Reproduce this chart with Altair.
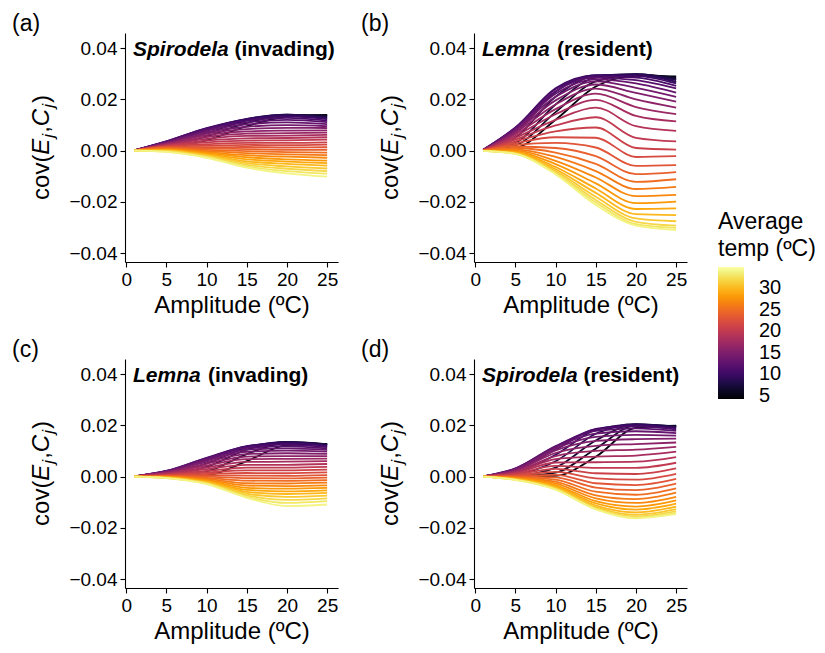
import altair as alt
import pandas as pd

FONT = "Liberation Sans"

temperatures = list(range(5, 35))
amplitudes = [1, 5, 10, 15, 20, 25]

# covariance values (x 1e-3); one list per amplitude, 30 temperatures (5..34) each
spirodela_invading = [
    [0.0, 0.0, 0.0, 0.1, 0.1, 0.1, 0.1, 0.1, 0.1, 0.1, 0.1, 0.1, 0.1, 0.1, 0.1, 0.0, 0.0, 0.0, 0.0, 0.0, 0.0, 0.0, 0.0, 0.0, 0.0, 0.0, 0.0, 0.0, 0.0, 0.0],
    [1.2, 1.8, 2.4, 2.9, 3.3, 3.6, 3.6, 3.5, 3.3, 3.1, 2.9, 2.7, 2.5, 2.3, 2.1, 1.9, 1.7, 1.5, 1.3, 1.1, 0.9, 0.7, 0.5, 0.3, 0.2, 0.0, -0.1, -0.2, -0.4, -0.5],
    [4.0, 5.5, 6.8, 7.8, 8.5, 8.8, 8.7, 8.3, 7.8, 7.2, 6.6, 6.0, 5.3, 4.6, 3.9, 3.2, 2.5, 1.9, 1.3, 0.8, 0.3, -0.2, -0.6, -1.0, -1.4, -1.7, -2.0, -2.3, -2.6, -2.8],
    [9.5, 10.8, 11.8, 12.3, 12.4, 12.2, 11.7, 11.0, 10.2, 9.3, 8.4, 7.5, 6.6, 5.7, 4.8, 3.9, 3.0, 2.2, 1.4, 0.6, -0.2, -1.0, -1.8, -2.6, -3.4, -4.2, -4.9, -5.6, -6.2, -6.7],
    [13.2, 13.8, 14.0, 14.0, 13.8, 13.4, 12.8, 12.0, 11.0, 9.9, 8.9, 7.8, 6.8, 5.8, 4.9, 4.0, 3.0, 2.1, 1.2, 0.3, -0.6, -1.5, -2.4, -3.4, -4.3, -5.2, -6.2, -7.1, -8.0, -8.9],
    [13.9, 13.7, 13.4, 13.0, 12.6, 12.3, 11.7, 11.1, 10.3, 9.5, 8.8, 7.9, 7.0, 6.1, 5.2, 4.3, 3.2, 2.3, 1.3, 0.3, -0.8, -1.8, -2.8, -3.9, -4.9, -5.9, -7.0, -8.0, -9.0, -10.2],
]

lemna_resident = [
    [0.0, 0.0, 0.1, 0.1, 0.2, 0.2, 0.3, 0.3, 0.3, 0.3, 0.3, 0.2, 0.2, 0.2, 0.2, 0.1, 0.1, 0.1, 0.1, 0.0, 0.0, 0.0, 0.0, 0.0, -0.1, -0.1, -0.1, -0.1, -0.1, -0.1],
    [1.0, 2.0, 3.0, 5.0, 7.0, 8.8, 9.0, 8.8, 8.5, 8.0, 7.5, 7.0, 6.4, 5.7, 5.0, 4.3, 3.6, 2.9, 2.2, 1.6, 1.0, 0.5, 0.0, -0.4, -0.7, -0.9, -1.1, -1.2, -1.3, -1.3],
    [12.0, 15.0, 18.0, 21.0, 23.0, 24.3, 24.0, 23.2, 22.2, 21.0, 19.6, 18.0, 16.2, 14.2, 12.0, 9.8, 7.5, 5.2, 3.0, 1.0, -0.8, -2.5, -4.0, -5.3, -6.4, -7.3, -8.0, -8.6, -9.0, -9.3],
    [25.0, 27.0, 28.5, 29.2, 29.4, 29.3, 29.0, 28.5, 27.8, 27.0, 25.8, 24.2, 22.2, 19.8, 16.8, 13.0, 9.0, 5.0, 1.2, -2.2, -5.2, -8.0, -10.5, -12.8, -14.8, -16.5, -18.0, -19.3, -20.3, -21.2],
    [29.2, 29.6, 29.8, 29.8, 29.6, 29.2, 28.5, 27.5, 26.2, 24.5, 22.5, 20.0, 17.0, 13.5, 9.5, 5.0, 1.0, -2.5, -6.0, -9.2, -12.2, -15.0, -17.8, -20.5, -22.8, -24.8, -26.5, -27.8, -28.7, -29.3],
    [29.0, 28.5, 28.0, 27.5, 26.8, 26.2, 25.3, 24.3, 22.6, 21.0, 19.1, 16.8, 14.2, 11.4, 7.7, 3.6, 0.4, -2.2, -5.7, -8.4, -11.2, -14.2, -17.3, -19.9, -22.6, -25.2, -27.6, -29.3, -30.2, -31.0],
]

lemna_invading = [
    [0.0, 0.0, 0.0, 0.0, 0.1, 0.1, 0.1, 0.1, 0.1, 0.1, 0.1, 0.1, 0.1, 0.1, 0.0, 0.0, 0.0, 0.0, 0.0, 0.0, 0.0, 0.0, 0.0, 0.0, 0.0, 0.0, 0.0, 0.0, 0.0, 0.0],
    [0.0, 0.2, 0.6, 1.1, 1.6, 2.0, 2.2, 2.2, 2.1, 2.0, 1.8, 1.6, 1.4, 1.2, 1.0, 0.8, 0.6, 0.5, 0.3, 0.2, 0.1, 0.0, -0.1, -0.2, -0.3, -0.4, -0.4, -0.5, -0.6, -0.6],
    [0.5, 2.0, 3.8, 5.2, 6.3, 7.0, 7.3, 7.2, 6.8, 6.3, 5.7, 5.0, 4.3, 3.6, 2.9, 2.2, 1.6, 1.0, 0.5, 0.0, -0.5, -0.9, -1.3, -1.6, -1.9, -2.2, -2.4, -2.6, -2.8, -2.9],
    [6.0, 8.8, 10.5, 11.3, 11.8, 11.9, 11.7, 11.2, 10.5, 9.7, 8.8, 7.8, 6.8, 5.7, 4.6, 3.5, 2.4, 1.4, 0.4, -0.6, -1.6, -2.6, -3.5, -4.4, -5.2, -6.0, -6.7, -7.3, -7.9, -8.3],
    [12.3, 13.2, 13.5, 13.5, 13.3, 13.0, 12.5, 11.8, 11.0, 10.1, 9.1, 8.0, 6.9, 5.8, 4.6, 3.5, 2.4, 1.3, 0.3, -0.7, -1.7, -2.7, -3.7, -4.7, -5.8, -6.8, -7.9, -9.1, -10.3, -11.5],
    [12.8, 12.7, 12.6, 12.4, 12.2, 11.9, 11.5, 11.0, 10.4, 9.7, 8.9, 8.0, 7.0, 6.0, 4.9, 3.8, 2.7, 1.6, 0.6, -0.4, -1.4, -2.4, -3.4, -4.4, -5.4, -6.4, -7.4, -8.5, -9.6, -10.9],
]

spirodela_resident = [
    [0.0, 0.0, 0.0, 0.0, 0.1, 0.1, 0.1, 0.1, 0.1, 0.1, 0.1, 0.1, 0.1, 0.1, 0.1, 0.0, 0.0, 0.0, 0.0, 0.0, 0.0, 0.0, 0.0, 0.0, 0.0, 0.0, 0.0, 0.0, 0.0, 0.0],
    [0.0, 0.1, 0.3, 0.8, 1.6, 2.5, 3.0, 3.2, 3.1, 2.9, 2.6, 2.3, 2.0, 1.7, 1.4, 1.1, 0.8, 0.5, 0.3, 0.0, -0.2, -0.4, -0.6, -0.8, -0.9, -1.0, -1.1, -1.2, -1.3, -1.3],
    [0.3, 1.5, 3.5, 6.0, 8.5, 10.5, 11.6, 11.9, 11.6, 11.0, 10.2, 9.2, 8.0, 6.8, 5.5, 4.2, 3.0, 1.8, 0.7, -0.3, -1.2, -2.0, -2.7, -3.3, -3.8, -4.2, -4.5, -4.8, -5.0, -5.1],
    [7.7, 10.9, 14.1, 16.7, 18.2, 18.6, 18.4, 17.8, 16.8, 15.5, 13.9, 12.0, 10.0, 7.8, 5.6, 3.4, 1.3, -0.7, -2.6, -4.3, -5.9, -7.3, -8.5, -9.6, -10.5, -11.3, -11.9, -12.4, -12.7, -12.8],
    [19.0, 20.0, 20.4, 20.5, 20.4, 20.1, 19.6, 18.8, 17.7, 16.3, 14.6, 12.7, 10.5, 8.2, 5.8, 3.4, 1.0, -1.2, -3.3, -5.3, -7.1, -8.8, -10.3, -11.7, -12.9, -14.0, -14.9, -15.6, -16.0, -16.3],
    [19.9, 19.8, 19.6, 19.4, 19.1, 18.8, 18.4, 17.8, 17.0, 16.0, 14.8, 13.3, 11.6, 9.7, 7.6, 5.4, 3.2, 1.1, -0.9, -2.8, -4.6, -6.3, -7.9, -9.3, -10.6, -11.7, -12.7, -13.5, -14.2, -14.7],
]

panels = [
    ("(a)", "Spirodela", "(invading)", spirodela_invading),
    ("(b)", "Lemna", "(resident)", lemna_resident),
    ("(c)", "Lemna", "(invading)", lemna_invading),
    ("(d)", "Spirodela", "(resident)", spirodela_resident),
]

x_ticks = [0, 5, 10, 15, 20, 25]
y_ticks = [-0.04, -0.02, 0.0, 0.02, 0.04]
legend_ticks = [5, 10, 15, 20, 25, 30]

W, H = 213, 229
one = pd.DataFrame({"k": [0]})

legend = alt.Legend(
    title=["Average", "temp (ºC)"], orient="none", legendX=593, legendY=178,
    direction="vertical", gradientLength=132, gradientThickness=26,
    values=legend_ticks, labelOverlap=False, titleFontSize=23, titleFontWeight="normal",
    titleLineHeight=27, titleColor="black", titleFont=FONT, titlePadding=6,
    labelFontSize=20, labelOffset=15, labelColor="black", labelFont=FONT,
    gradientStrokeWidth=0,
)


def txt(s, x, y, size, style="normal", weight="normal", angle=0):
    return alt.Chart(one).mark_text(
        text=s, font=FONT, fontSize=size, fontStyle=style, fontWeight=weight,
        angle=angle, align="left", baseline="alphabetic", color="black",
    ).encode(x=alt.value(x), y=alt.value(y))


def name_width(name):
    return {"Spirodela": 101.5, "Lemna": 75.0}[name]


def panel(label, sp, role, table):
    rows = []
    for ti, t in enumerate(temperatures):
        for ai, a in enumerate(amplitudes):
            rows.append({"amp": a, "temp": t, "cov": table[ai][ti] * 1e-3})
    df = pd.DataFrame(rows)
    lines = alt.Chart(df).mark_line(interpolate="monotone", strokeWidth=1.8).encode(
        x=alt.X("amp:Q", scale=alt.Scale(domain=[-0.15, 26.35], nice=False, zero=False),
                axis=alt.Axis(values=x_ticks, title="Amplitude (ºC)", titlePadding=4)),
        y=alt.Y("cov:Q", scale=alt.Scale(domain=[-0.0435, 0.0459], nice=False, zero=False),
                axis=alt.Axis(values=y_ticks, format=".2f", title=None)),
        color=alt.Color("temp:Q", scale=alt.Scale(scheme="inferno", domain=[4.2, 35.0]), legend=legend),
        detail="temp:N",
    )
    layers = [lines]
    layers.append(txt(label, -113, -2, 23))
    layers.append(txt(sp, 8, 23, 21, style="italic", weight="bold"))
    layers.append(txt(role, 8 + name_width(sp), 23, 21, weight="bold"))
    # y-axis title cov(E_j, C_j), built from pieces (rotated)
    pieces = [("cov(", "normal", 24, 0, 45.3), ("E", "italic", 24, 0, 17.0),
              ("j", "italic", 17, 5, 4.8), (",", "normal", 24, 0, 6.7),
              ("C", "italic", 24, 0, 18.3), ("j", "italic", 17, 5, 4.8),
              (")", "normal", 24, 0, 8.0)]
    total = sum(p[4] for p in pieces)
    y0 = H / 2 + total / 2
    for s, st, sz, dx, w in pieces:
        layers.append(txt(s, -76 + dx, y0, sz, style=st, angle=270))
        y0 -= w
    return alt.layer(*layers).properties(width=W, height=H)


charts = [panel(*p) for p in panels]
row1 = alt.hconcat(charts[0], charts[1], spacing=23)
row2 = alt.hconcat(charts[2], charts[3], spacing=23)
chart = alt.vconcat(row1, row2, spacing=22).properties(
    padding={"left": 4, "top": 5, "right": 0, "bottom": 4}
).configure_view(stroke=None).configure_axis(
    grid=False, domainColor="black", domainWidth=1.1, tickColor="black",
    tickWidth=1.1, tickSize=5, labelFontSize=19, labelColor="black", labelFont=FONT,
    titleFont=FONT, titleFontSize=24, titleFontWeight="normal", titleColor="black",
    labelPadding=3,
)

chart.save("out.html", embed_options={"renderer": "svg", "actions": False})
